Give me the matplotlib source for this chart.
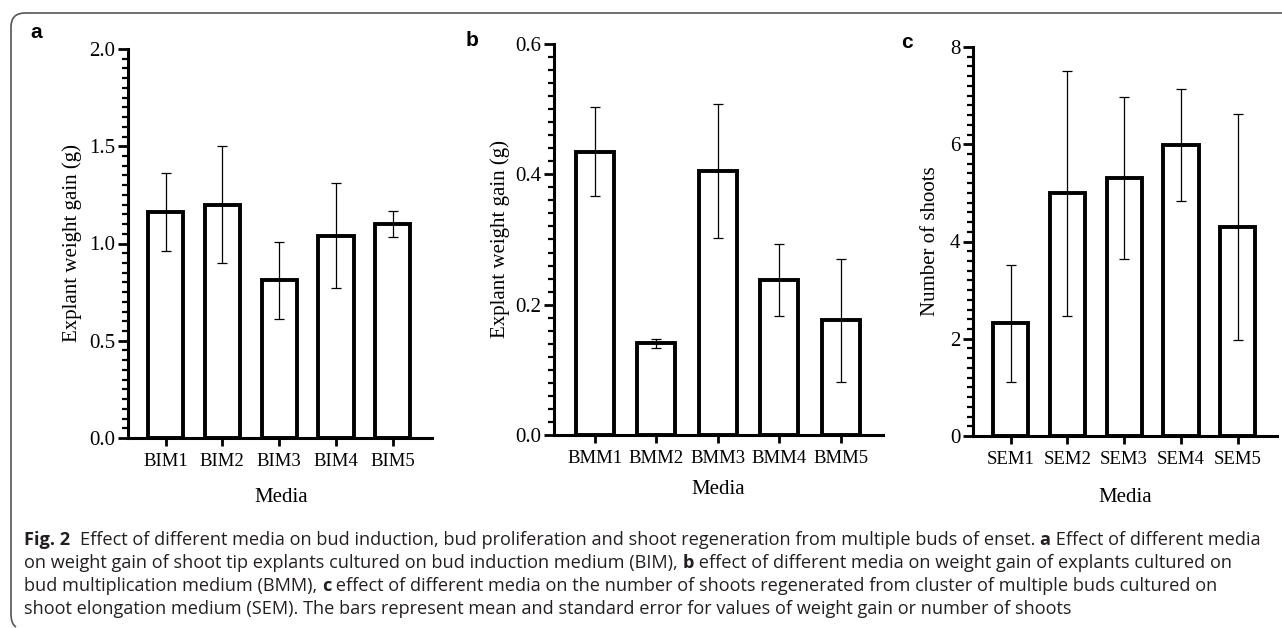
import matplotlib
matplotlib.use("Agg")
import matplotlib.pyplot as plt
from matplotlib.path import Path
from matplotlib.patches import PathPatch
from matplotlib.ticker import MultipleLocator, FormatStrFormatter

# ---------------- data ----------------
bim_labels = ["BIM1", "BIM2", "BIM3", "BIM4", "BIM5"]
bim_mean = [1.16, 1.20, 0.81, 1.04, 1.10]
bim_err = [0.20, 0.30, 0.20, 0.27, 0.065]

bmm_labels = ["BMM1", "BMM2", "BMM3", "BMM4", "BMM5"]
bmm_mean = [0.435, 0.141, 0.405, 0.238, 0.176]
bmm_err = [0.068, 0.007, 0.103, 0.055, 0.094]

sem_labels = ["SEM1", "SEM2", "SEM3", "SEM4", "SEM5"]
sem_mean = [2.32, 4.99, 5.31, 5.98, 4.30]
sem_err = [1.20, 2.52, 1.66, 1.15, 2.33]

W, H = 1282, 628
fig = plt.figure(figsize=(W / 100, H / 100), dpi=100)

def fx(px):
    return px / W

def fy(py):
    return 1 - py / H

SERIF = "Liberation Serif"

panels = [
    (bim_mean, bim_err, bim_labels, "Explant weight gain (g)", 2.0, 0.5, 0.05, "%.1f",
     (128, 432, 49, 438), -0.150, "a", (36, 33), (281, 497)),
    (bmm_mean, bmm_err, bmm_labels, "Explant weight gain (g)", 0.6, 0.2, 0.02, "%.1f",
     (554, 883, 44, 435), -0.134, "b", (472, 40), (718, 490)),
    (sem_mean, sem_err, sem_labels, "Number of shoots", 8, 2, 0.2, "%d",
     (973, 1277, 47, 436), -0.109, "c", (907, 42), (1125, 497)),
]

for (mean, err, labels, ylabel, ymax, major, minor, fmt, box, ylx, letter, lpos, mpos) in panels:
    l, r, t, b = box
    ax = fig.add_axes([fx(l), fy(b), (r - l) / W, (b - t) / H])
    x = list(range(len(labels)))
    ax.bar(x, mean, width=0.62, color="white", edgecolor="black", linewidth=2.8, zorder=2)
    ax.errorbar(x, mean, yerr=err, fmt="none", ecolor="black", elinewidth=0.9,
                capsize=3.6, capthick=0.9, zorder=3)
    ax.set_xlim(-0.66, 4.69)
    ax.set_ylim(0, ymax)
    ax.spines["top"].set_visible(False)
    ax.spines["right"].set_visible(False)
    for s in ("left", "bottom"):
        ax.spines[s].set_linewidth(2.2)
    ax.set_xticks(x)
    ax.set_xticklabels(labels, fontfamily=SERIF, fontsize=13.5)
    ax.yaxis.set_major_locator(MultipleLocator(major))
    ax.yaxis.set_minor_locator(MultipleLocator(minor))
    ax.yaxis.set_major_formatter(FormatStrFormatter(fmt))
    for lab in ax.get_yticklabels():
        lab.set_fontfamily(SERIF)
        lab.set_fontsize(15)
    ax.tick_params(axis="y", which="major", length=7, width=2.0, pad=2, labelsize=15)
    ax.tick_params(axis="y", which="minor", length=4, width=1.6)
    ax.tick_params(axis="x", which="major", length=6, width=2.0, pad=5, labelsize=13.5)
    ax.set_ylabel(ylabel, fontfamily=SERIF, fontsize=15)
    ax.yaxis.set_label_coords(ylx, 0.5)
    fig.text(fx(mpos[0]), fy(mpos[1]), "Media", fontfamily=SERIF, fontsize=15,
             ha="center", va="center")
    fig.text(fx(lpos[0]), fy(lpos[1]), letter, fontfamily="Liberation Sans",
             fontweight="bold", fontsize=15, ha="center", va="center")

# ---------------- frame ----------------
x0, y0 = 11, 13
rad = 14
verts = [
    (fx(16), fy(627)),
    (fx(x0), fy(624)), (fx(x0), fy(614)),
    (fx(x0), fy(y0 + rad)),
    (fx(x0), fy(y0)), (fx(x0 + rad), fy(y0)),
    (fx(W + 5), fy(y0)),
]
codes = [Path.MOVETO, Path.CURVE3, Path.CURVE3, Path.LINETO,
         Path.CURVE3, Path.CURVE3, Path.LINETO]
fig.patches.append(PathPatch(Path(verts, codes), transform=fig.transFigure,
                             facecolor="none", edgecolor="#555555", linewidth=1.2))

# ---------------- caption ----------------
CAP = "Open Sans"
cap_lines = [
    [("Fig. 2", True), ("  ", False),
     ("Effect of different media on bud induction, bud proliferation and shoot regeneration from multiple buds of enset. ", False),
     ("a", True), (" Effect of different media", False)],
    [("on weight gain of shoot tip explants cultured on bud induction medium (BIM), ", False),
     ("b", True), (" effect of different media on weight gain of explants cultured on", False)],
    [("bud multiplication medium (BMM), ", False), ("c", True),
     (" effect of different media on the number of shoots regenerated from cluster of multiple buds cultured on", False)],
    [("shoot elongation medium (SEM). The bars represent mean and standard error for values of weight gain or number of shoots", False)],
]
cap_y = [545, 568, 591, 614]
cap_x0 = 24
target_w = 1266 - cap_x0

renderer = fig.canvas.get_renderer()

def seg_width(s, bold, size):
    t = fig.text(0, 0, "|" + s + "|", fontfamily=CAP, fontsize=size,
                 fontweight="bold" if bold else "normal")
    w1 = t.get_window_extent(renderer).width
    t.remove()
    t = fig.text(0, 0, "||", fontfamily=CAP, fontsize=size,
                 fontweight="bold" if bold else "normal")
    w2 = t.get_window_extent(renderer).width
    t.remove()
    return w1 - w2

base_size = 11.0
w_line1 = sum(seg_width(s, bd, base_size) for s, bd in cap_lines[0])
cap_size = base_size * target_w / w_line1

for segs, yy in zip(cap_lines, cap_y):
    xpos = cap_x0
    for s, bd in segs:
        fig.text(fx(xpos), fy(yy), s, fontfamily=CAP, fontsize=cap_size,
                 fontweight="bold" if bd else "normal", ha="left", va="baseline",
                 color="#231f20")
        xpos += seg_width(s, bd, cap_size)

fig.savefig("out.png", dpi=100)
